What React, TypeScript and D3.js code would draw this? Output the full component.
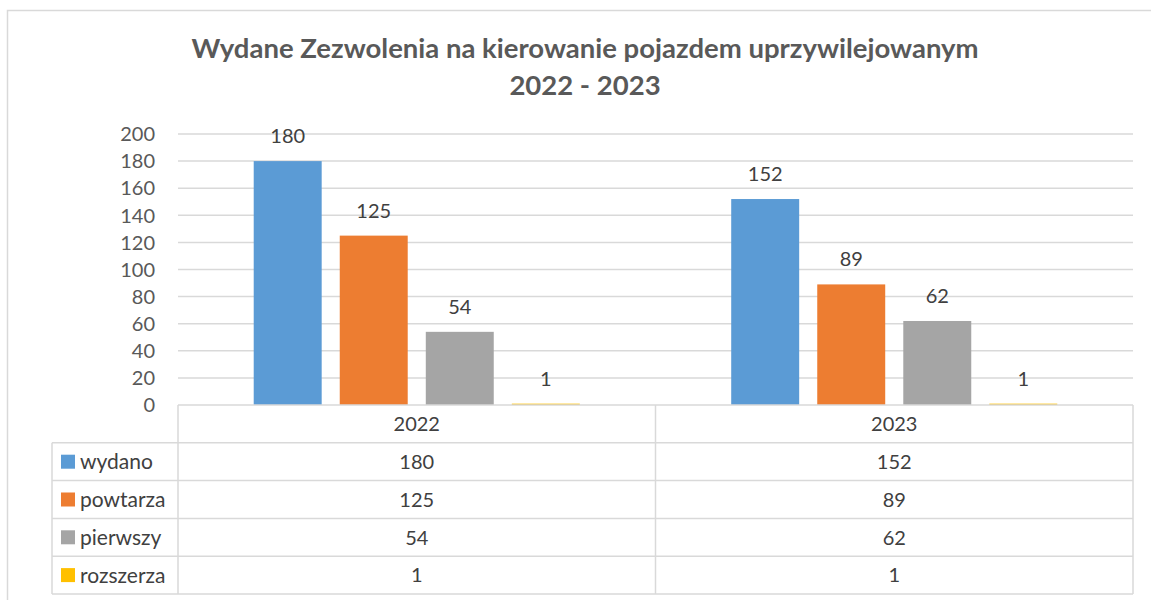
import React from 'react';
import * as d3 from 'd3';

// chart data
const years = ['2022', '2023'];
const seriesNames = ['wydano', 'powtarza', 'pierwszy', 'rozszerza'];
const wydano = [180, 152];
const powtarza = [125, 89];
const pierwszy = [54, 62];
const rozszerza = [1, 1];
const yTicks = [0, 20, 40, 60, 80, 100, 120, 140, 160, 180, 200];
const colors = ['#5B9BD5', '#ED7D31', '#A5A5A5', '#FFC000'];

const values = [wydano, powtarza, pierwszy, rozszerza];

const W = 1151, H = 600;
const plotLeft = 178, plotRight = 1133, plotTop = 134, plotBottom = 405;
const legendLeft = 52;
const tableBottom = 594;
const font = 'Lato, "Open Sans", sans-serif';

export default function App() {
  const x0 = d3.scaleBand().domain(years).range([plotLeft, plotRight]).padding(0);
  const x1 = d3.scaleBand()
    .domain(seriesNames)
    .range([0, x0.bandwidth()])
    .paddingInner(0.21)
    .paddingOuter(0.88);
  const y = d3.scaleLinear().domain([0, 200]).range([plotBottom, plotTop]);

  // table rows: header + one per series
  const rowY = d3.scaleLinear().domain([0, seriesNames.length + 1]).range([plotBottom, tableBottom]);
  const rowH = rowY(1) - rowY(0);

  return (
    <svg width={W} height={H} style={{ position: 'absolute', left: 0, top: 0, background: '#fff' }}>
      <rect x={7.5} y={10.5} width={1160} height={620} fill="#fff" stroke="#D9D9D9" strokeWidth={1.5} />

      {/* title */}
      <text x={585} y={58} textAnchor="middle" fontFamily={font} fontWeight="bold" fontSize={27.5} fill="#595959">
        Wydane Zezwolenia na kierowanie pojazdem uprzywilejowanym
      </text>
      <text x={585} y={95} textAnchor="middle" fontFamily={font} fontWeight="bold" fontSize={27.5} fill="#595959">
        2022 - 2023
      </text>

      {/* gridlines + y ticks */}
      {yTicks.map(t => (
        <g key={t}>
          {t > 0 && (
            <line x1={plotLeft} x2={plotRight} y1={y(t)} y2={y(t)} stroke="#D9D9D9" strokeWidth={1.5} />
          )}
          <text x={155} y={y(t)} dy="0.36em" textAnchor="end" fontFamily={font} fontSize={20} fill="#595959">
            {t}
          </text>
        </g>
      ))}

      {/* bars */}
      {years.map((yr, i) => (
        <g key={yr} transform={`translate(${x0(yr)},0)`}>
          {seriesNames.map((s, j) => {
            const v = values[j][i];
            return (
              <g key={s}>
                <rect x={x1(s)} y={y(v)} width={x1.bandwidth()} height={plotBottom - y(v)} fill={colors[j]} />
                <text x={(x1(s) as number) + x1.bandwidth() / 2} y={y(v) - 18} textAnchor="middle"
                  fontFamily={font} fontSize={20} fill="#404040">{v}</text>
              </g>
            );
          })}
        </g>
      ))}

      {/* data table */}
      <g stroke="#D9D9D9" strokeWidth={1.5}>
        <line x1={plotLeft} x2={plotRight} y1={rowY(0)} y2={rowY(0)} />
        {d3.range(1, seriesNames.length + 2).map(r => (
          <line key={r} x1={legendLeft} x2={plotRight} y1={rowY(r)} y2={rowY(r)} />
        ))}
        <line x1={legendLeft} x2={legendLeft} y1={rowY(1)} y2={tableBottom} />
        {years.map(yr => (
          <line key={yr} x1={x0(yr)} x2={x0(yr)} y1={rowY(0)} y2={tableBottom} />
        ))}
        <line x1={plotRight} x2={plotRight} y1={rowY(0)} y2={tableBottom} />
      </g>

      {years.map(yr => (
        <text key={yr} x={(x0(yr) as number) + x0.bandwidth() / 2} y={rowY(0) + rowH / 2} dy="0.36em"
          textAnchor="middle" fontFamily={font} fontSize={20} fill="#404040">{yr}</text>
      ))}

      {seriesNames.map((s, j) => {
        const cy = rowY(j + 1) + rowH / 2;
        return (
          <g key={s}>
            <rect x={61} y={cy - 7} width={14} height={14} fill={colors[j]} />
            <text x={80} y={cy} dy="0.36em" fontFamily={font} fontSize={21} fill="#404040">{s}</text>
            {years.map((yr, i) => (
              <text key={yr} x={(x0(yr) as number) + x0.bandwidth() / 2} y={cy} dy="0.36em"
                textAnchor="middle" fontFamily={font} fontSize={20} fill="#404040">{values[j][i]}</text>
            ))}
          </g>
        );
      })}
    </svg>
  );
}
